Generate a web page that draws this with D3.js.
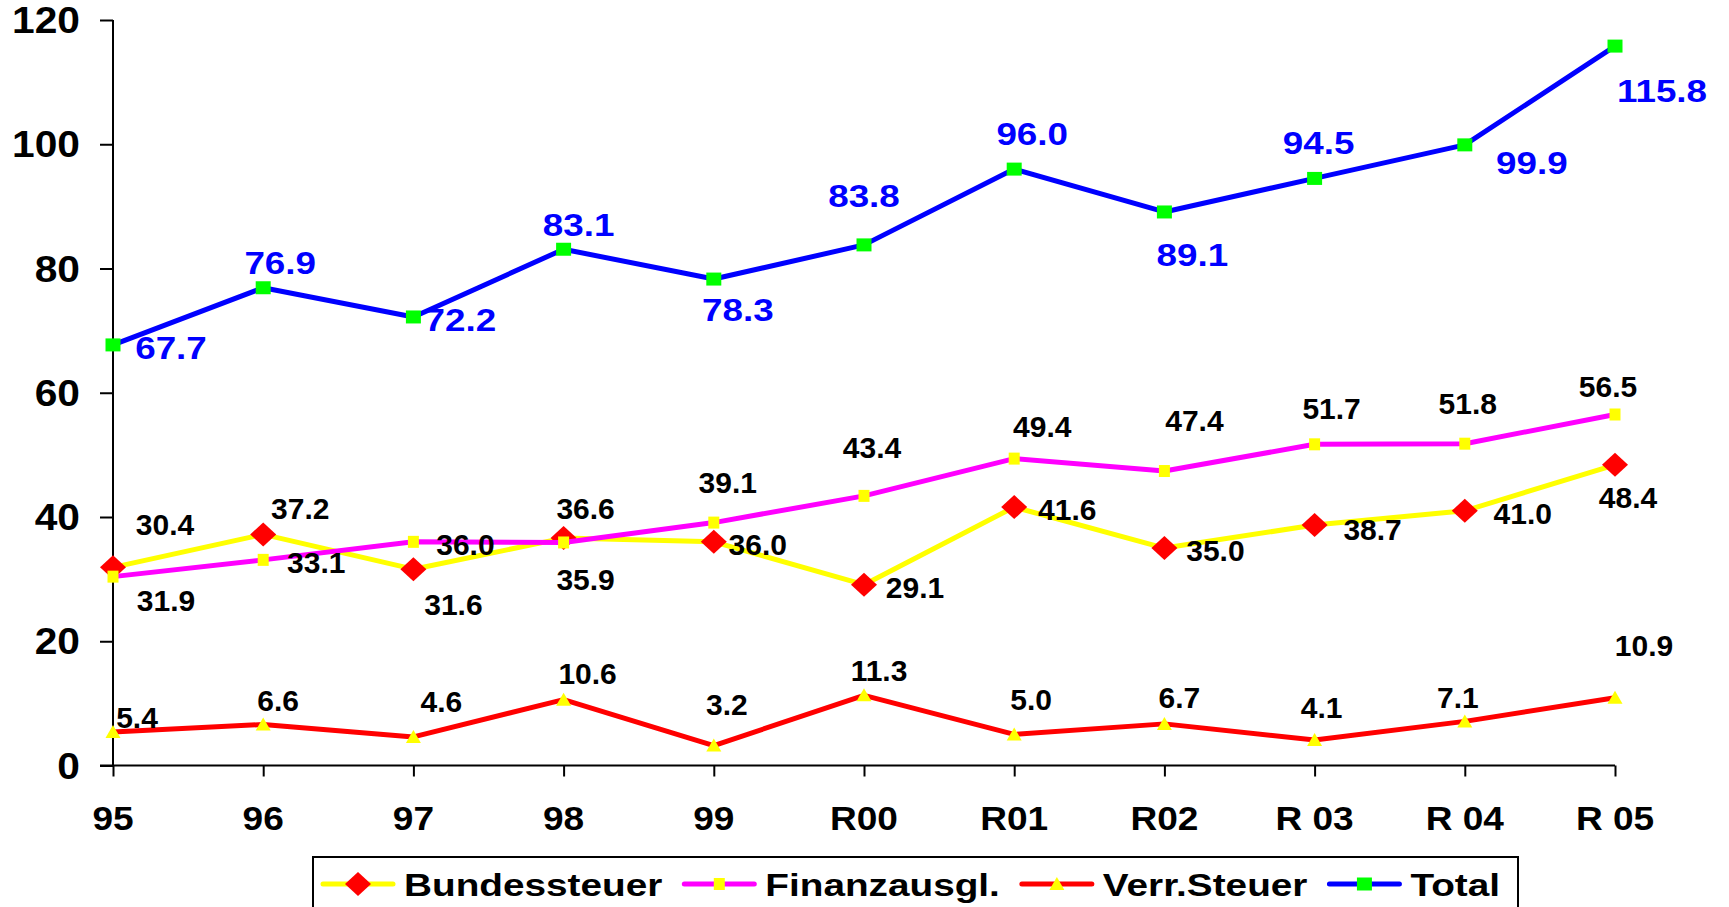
<!DOCTYPE html>
<html>
<head>
<meta charset="utf-8">
<script src="https://cdn.jsdelivr.net/npm/d3@7"></script>
<style>
  html, body { margin: 0; padding: 0; background: #fff; }
  svg { display: block; font-family: "Liberation Sans", Arial, sans-serif; font-weight: bold; }
</style>
</head>
<body>
<svg id="chart" width="1729" height="907"></svg>
<script>
// data
var years = ["95", "96", "97", "98", "99", "R00", "R01", "R02", "R 03", "R 04", "R 05"];
var bundessteuer = [31.9, 37.2, 31.6, 36.6, 36.0, 29.1, 41.6, 35.0, 38.7, 41.0, 48.4];
var finanzausgl = [30.4, 33.1, 36.0, 35.9, 39.1, 43.4, 49.4, 47.4, 51.7, 51.8, 56.5];
var verrSteuer = [5.4, 6.6, 4.6, 10.6, 3.2, 11.3, 5.0, 6.7, 4.1, 7.1, 10.9];
var total = [67.7, 76.9, 72.2, 83.1, 78.3, 83.8, 96.0, 89.1, 94.5, 99.9, 115.8];
var yTicks = [0, 20, 40, 60, 80, 100, 120];

// label placement (centre of label relative to the point), as dragged in the original
var offBund = [[53, 33], [37, -26], [40, 35], [22, -30], [44, 2], [51, 2], [53, 2], [51, 2], [58, 4], [58, 2], [13, 32]];
var offFin = [[52, -52], [53, 2], [52, 2], [22, 37], [14, -40], [8, -49], [28, -32], [30, -51], [17, -36], [3, -40], [-7, -28]];
var offVerr = [[24, -15], [15, -24], [28, -36], [24, -26], [13, -41], [15, -25], [17, -35], [15, -27], [7, -33], [-7, -24], [29, -53]];
var offTot = [[58, 3], [17, -25], [47, 3], [15, -25], [24, 30], [0, -49], [18, -36], [28, 43], [4, -36], [67, 18], [47, 44]];

var series = [
  {name: "Bundessteuer", values: bundessteuer, line: "#ffff00", fill: "#ff0000", shape: "diamond", label: "#000", off: offBund},
  {name: "Finanzausgl.", values: finanzausgl, line: "#ff00ff", fill: "#ffff00", shape: "smallsq", label: "#000", off: offFin},
  {name: "Verr.Steuer", values: verrSteuer, line: "#ff0000", fill: "#ffff00", shape: "triangle", label: "#000", off: offVerr},
  {name: "Total", values: total, line: "#0000ff", fill: "#00ff00", shape: "square", label: "#0000ff", off: offTot}
];

var svg = d3.select("#chart");
var x = d3.scalePoint().domain(years).range([113, 1615]);
var y = d3.scaleLinear().domain([0, 120]).range([765.5, 20]);

function stext(g, px, py, str, size, sx, anchor, color) {
  return g.append("text")
    .attr("transform", "translate(" + px + "," + py + ") scale(" + sx + ",1)")
    .attr("text-anchor", anchor)
    .attr("font-size", size)
    .attr("fill", color || "#000")
    .text(str);
}

function marker(g, shape, cx, cy, fill) {
  var p;
  if (shape == "diamond") p = "M" + cx + "," + (cy - 12) + "L" + (cx + 13) + "," + cy + "L" + cx + "," + (cy + 12) + "L" + (cx - 13) + "," + cy + "Z";
  else if (shape == "triangle") p = "M" + cx + "," + (cy - 7) + "L" + (cx + 7.5) + "," + (cy + 6) + "L" + (cx - 7.5) + "," + (cy + 6) + "Z";
  else if (shape == "square") p = "M" + (cx - 7.5) + "," + (cy - 6.5) + "h15v13h-15Z";
  else p = "M" + (cx - 5.5) + "," + (cy - 6) + "h11v12h-11Z";
  g.append("path").attr("d", p).attr("fill", fill);
}

// axes
var yAxis = svg.append("g").attr("transform", "translate(113,0)")
  .call(d3.axisLeft(y).tickValues(yTicks).tickSize(13).tickFormat(d3.format("d")));
var xAxis = svg.append("g").attr("transform", "translate(0,765.5)")
  .call(d3.axisBottom(x).tickSize(11).tickFormat(""));
svg.selectAll(".domain").remove();
svg.selectAll(".tick line").attr("stroke", "#000").attr("stroke-width", 2);
yAxis.selectAll(".tick text").remove();
yAxis.append("line").attr("x1", 0).attr("x2", 0).attr("y1", 20).attr("y2", 765.5).attr("stroke", "#000").attr("stroke-width", 2);
xAxis.append("line").attr("x1", 100).attr("x2", 1615).attr("y1", 0).attr("y2", 0).attr("stroke", "#000").attr("stroke-width", 2);

var axisLabels = svg.append("g");
yTicks.forEach(function(t) {
  stext(axisLabels, 80, y(t) + 13, t, 37, 1.1, "end");
});
years.forEach(function(c) {
  stext(axisLabels, x(c), 830, c, 32.5, 1.14, "middle");
});

// lines and markers
var line = d3.line().x(function(d, i) { return x(years[i]); }).y(function(d) { return y(d); });
series.forEach(function(s) {
  var g = svg.append("g");
  g.append("path").attr("d", line(s.values)).attr("fill", "none")
    .attr("stroke", s.line).attr("stroke-width", 5).attr("stroke-linejoin", "round");
  s.values.forEach(function(v, i) { marker(g, s.shape, x(years[i]), y(v), s.fill); });
});

// data labels
var labels = svg.append("g");
series.forEach(function(s) {
  var blue = s.name == "Total";
  var size = blue ? 32 : 30;
  s.values.forEach(function(v, i) {
    var o = s.off[i];
    stext(labels, x(years[i]) + o[0], y(v) + o[1] + size * 0.36, v.toFixed(1), size, blue ? 1.15 : 1.0, "middle", s.label);
  });
});

// legend
var leg = svg.append("g");
leg.append("rect").attr("x", 313).attr("y", 857).attr("width", 1205).attr("height", 80)
  .attr("fill", "#fff").attr("stroke", "#000").attr("stroke-width", 2);
var lx = 323;
series.forEach(function(s) {
  leg.append("line").attr("x1", lx).attr("x2", lx + 70).attr("y1", 884).attr("y2", 884)
    .attr("stroke", s.line).attr("stroke-width", 5).attr("stroke-linecap", "round");
  marker(leg, s.shape, lx + 35, 884, s.fill);
  var t = stext(leg, lx + 81, 896, s.name, 31.5, 1.23, "start");
  lx += 81 + t.node().getComputedTextLength() * 1.23 + 22;
});
</script>
</body>
</html>
